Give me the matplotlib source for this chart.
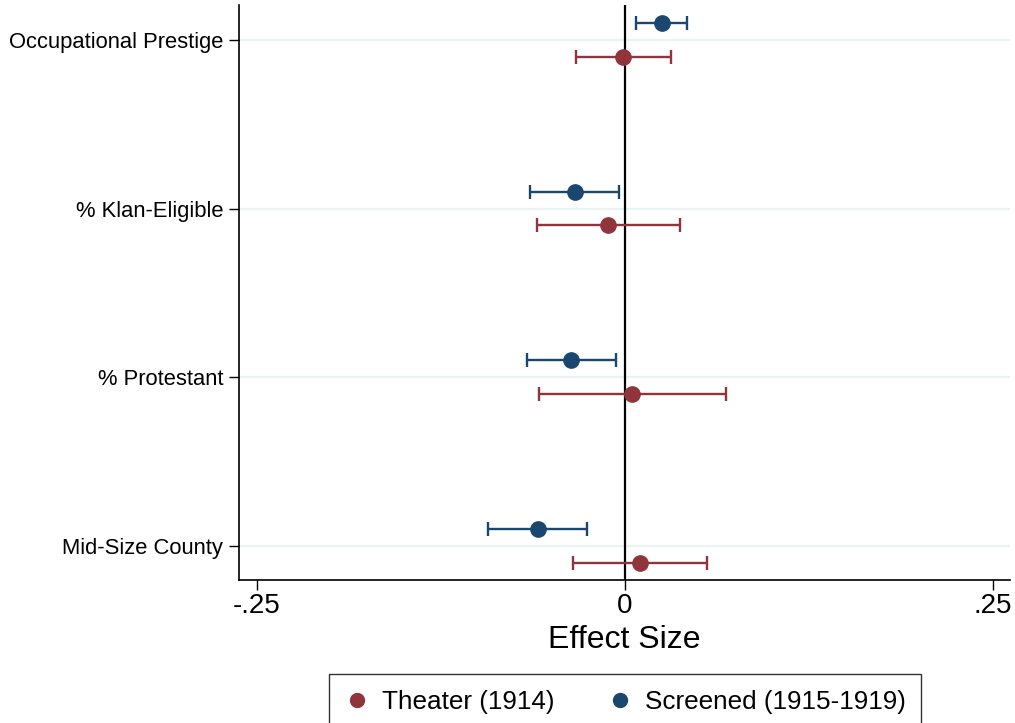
import matplotlib
matplotlib.use('Agg')
import matplotlib.pyplot as plt
from matplotlib.lines import Line2D
import numpy as np

plt.rcParams['font.family'] = ['Liberation Sans', 'DejaVu Sans']

CATEGORIES = ['Mid-Size County', '% Protestant', '% Klan-Eligible', 'Occupational Prestige']

# point estimates and 95% CI bounds, same order as CATEGORIES
THEATER_EST = [0.0104, 0.0052, -0.0111, -0.0010]
THEATER_LO = [-0.0349, -0.0580, -0.0594, -0.0331]
THEATER_HI = [0.0557, 0.0686, 0.0376, 0.0315]

SCREENED_EST = [-0.0591, -0.0365, -0.0338, 0.0251]
SCREENED_LO = [-0.0931, -0.0662, -0.0643, 0.0077]
SCREENED_HI = [-0.0254, -0.0061, -0.0037, 0.0425]

X_TICKS = [-0.25, 0, 0.25]
X_TICK_LABELS = ['-.25', '0', '.25']

MAROON = '#90353b'
NAVY = '#1a476f'
OFFSET = 0.1


def draw_series(ax, y, est, lo, hi, color):
    est = np.asarray(est)
    xerr = np.vstack([est - np.asarray(lo), np.asarray(hi) - est])
    ax.errorbar(est, y, xerr=xerr, fmt='o', color=color, ecolor=color,
                markersize=11, elinewidth=1.7, capsize=4.8, capthick=1.7, zorder=3)


fig = plt.figure(figsize=(10.15, 7.23), dpi=100)
ax = fig.add_axes([239 / 1015, 1 - 580 / 723, (1010 - 239) / 1015, (580 - 5) / 723])

y = np.arange(1, len(CATEGORIES) + 1)
for yy in y:
    ax.axhline(yy, color='#eaf2f3', lw=1.6, zorder=0)
ax.axvline(0, color='black', lw=1.6, zorder=2)

draw_series(ax, y - OFFSET, THEATER_EST, THEATER_LO, THEATER_HI, MAROON)
draw_series(ax, y + OFFSET, SCREENED_EST, SCREENED_LO, SCREENED_HI, NAVY)

ax.set_xlim(-0.262, 0.2618)
ax.set_ylim(0.798, 4.207)
ax.set_yticks(y)
ax.set_yticklabels(CATEGORIES, fontsize=15.8)
ax.set_xticks(X_TICKS)
ax.set_xticklabels(X_TICK_LABELS, fontsize=20)
ax.set_xlabel('Effect Size', fontsize=23, labelpad=4)
ax.tick_params(axis='both', direction='out', length=7.5, width=1, color='black')
ax.tick_params(axis='x', pad=2)
ax.tick_params(axis='y', pad=4)

for side in ['top', 'right']:
    ax.spines[side].set_visible(False)
for side in ['left', 'bottom']:
    ax.spines[side].set_linewidth(1.2)

handles = [
    Line2D([], [], marker='o', ls='none', color=MAROON, markersize=10),
    Line2D([], [], marker='o', ls='none', color=NAVY, markersize=10),
]
leg = fig.legend(handles, ['Theater (1914)', 'Screened (1915-1919)'],
                 loc='upper center', bbox_to_anchor=(625 / 1015, 1 - 674 / 723),
                 ncol=2, fontsize=18.8, frameon=True, fancybox=False, borderaxespad=0,
                 handletextpad=0.45, columnspacing=2.0, borderpad=0.6, handlelength=1.0)
leg.get_frame().set_edgecolor('black')
leg.get_frame().set_linewidth(1.0)

fig.savefig('out.png', dpi=100)
